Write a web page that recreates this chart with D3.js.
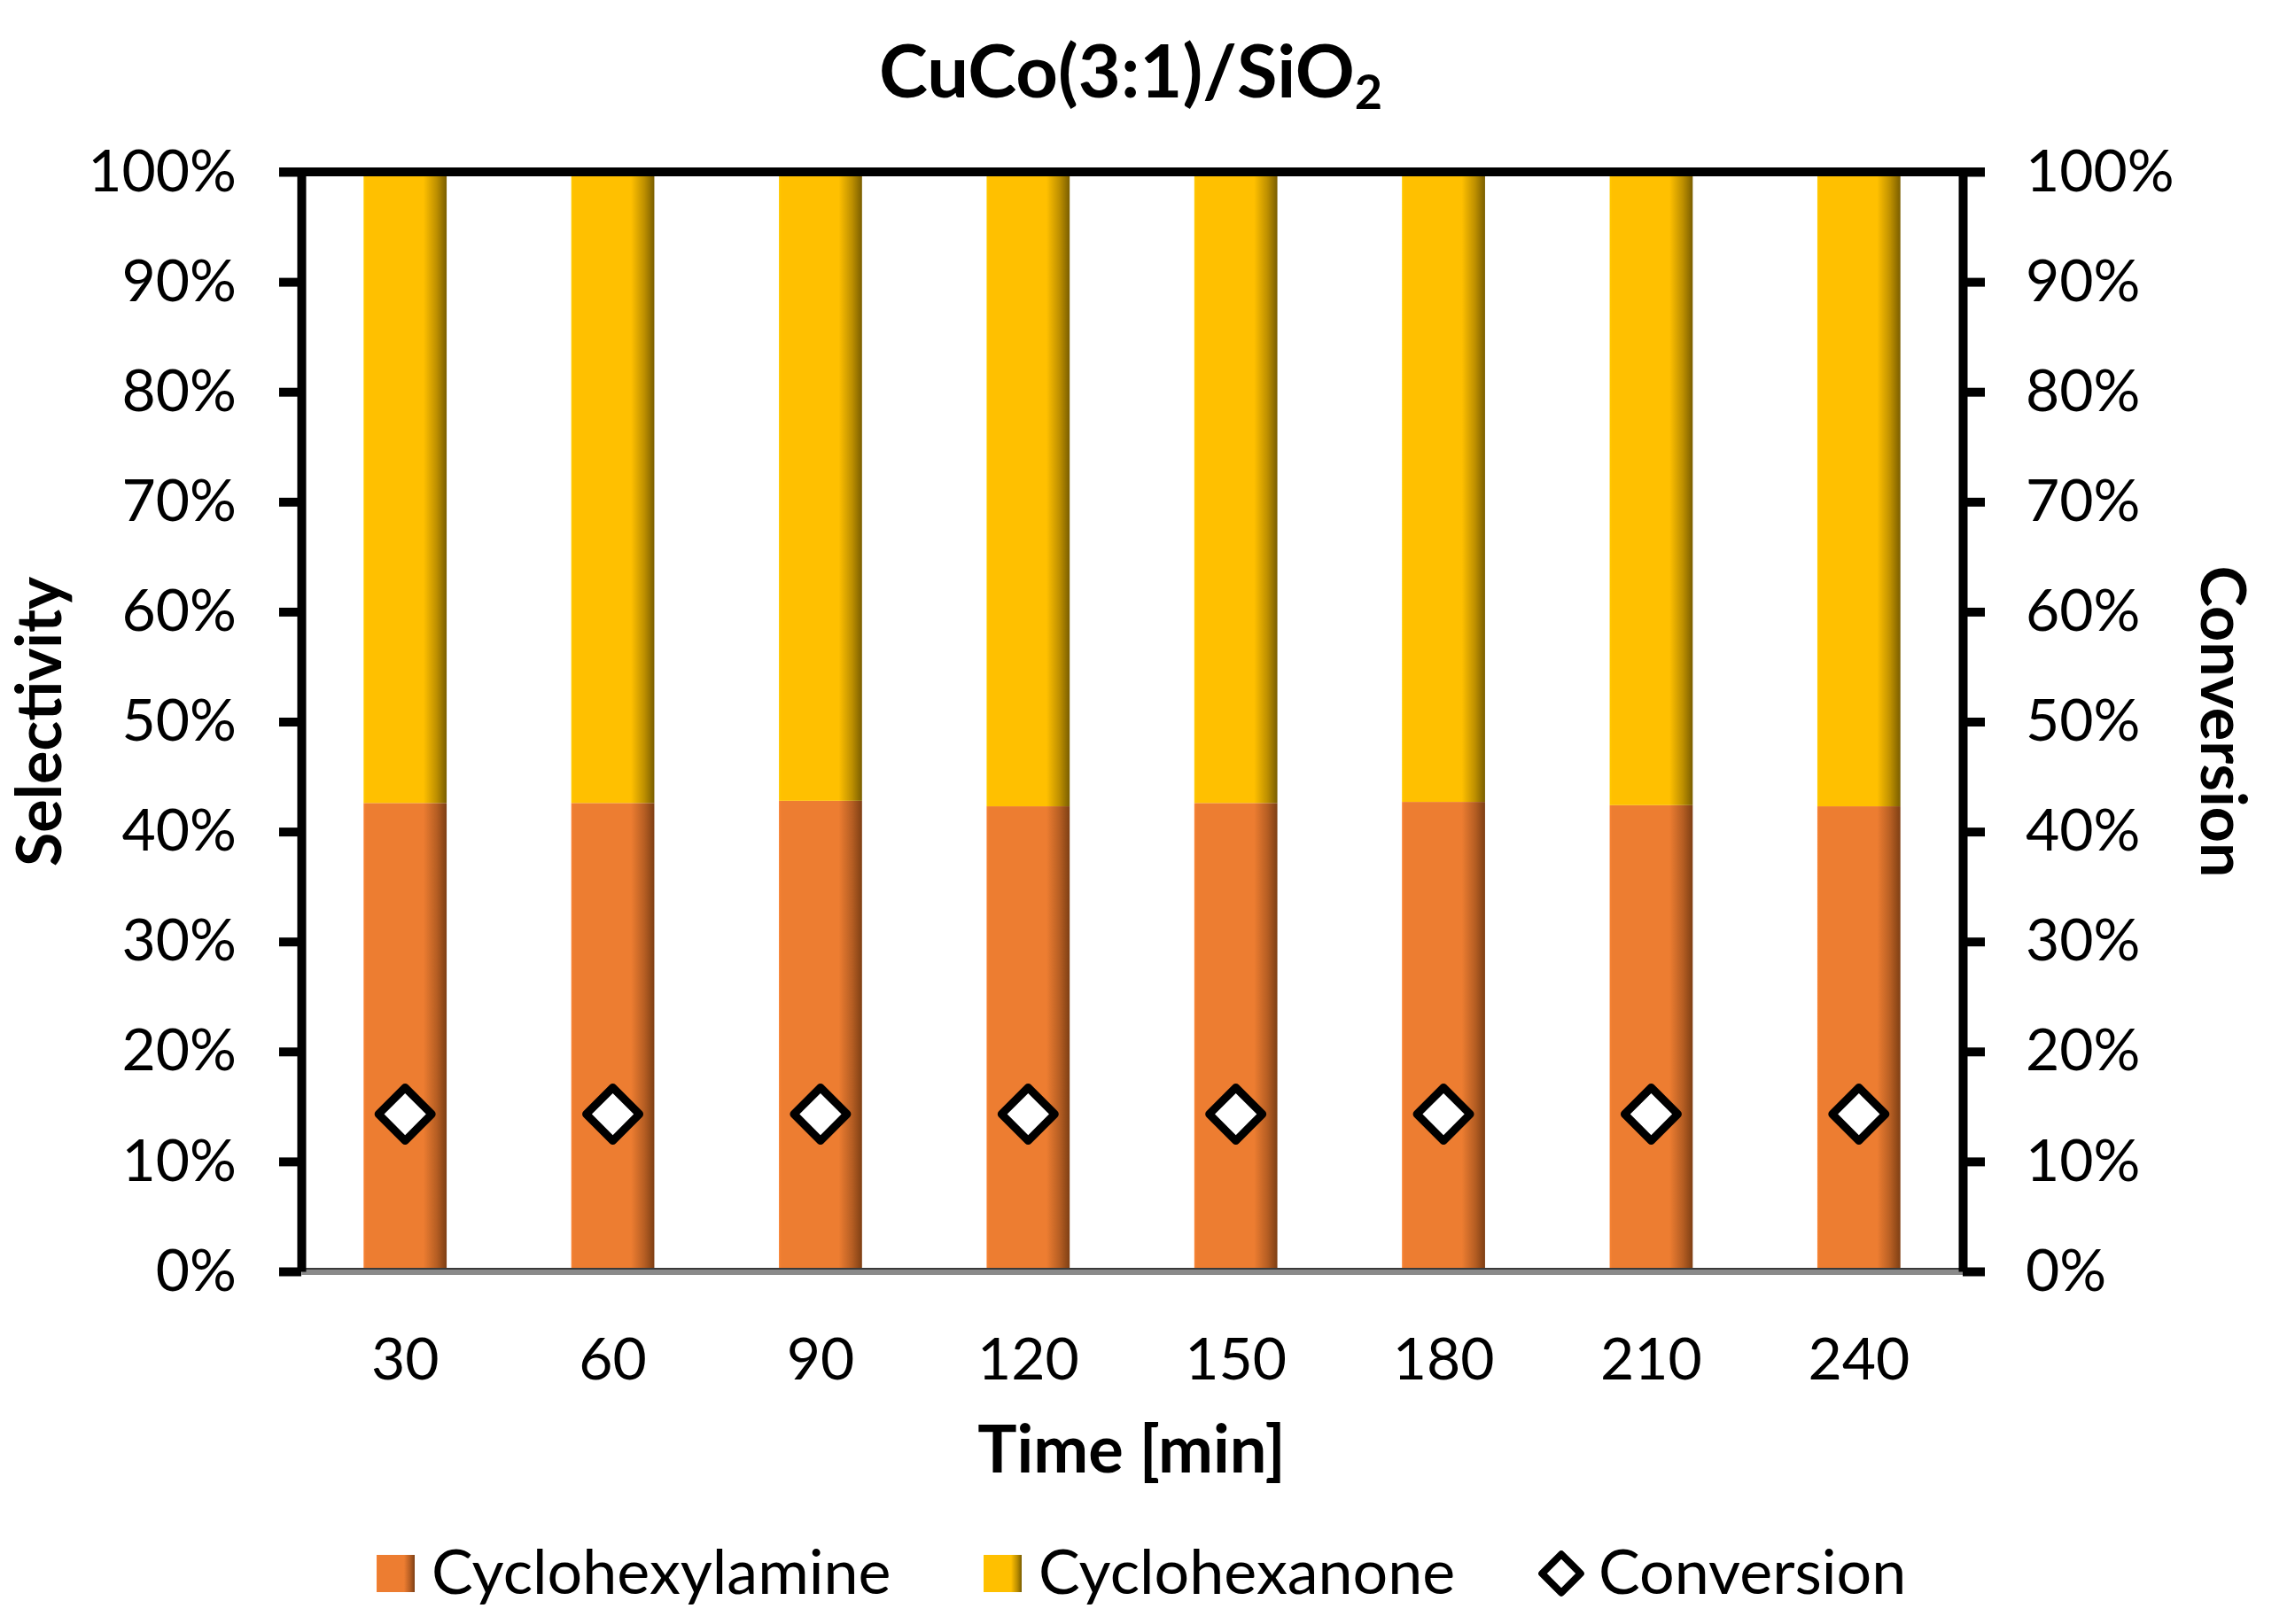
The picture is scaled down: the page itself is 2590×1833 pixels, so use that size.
<!DOCTYPE html>
<html>
<head>
<meta charset="utf-8">
<script src="https://cdn.jsdelivr.net/npm/d3@7"></script>
<style>
  html, body { margin: 0; padding: 0; background: #ffffff; }
  svg { display: block; font-family: Lato, "Open Sans", sans-serif; }
</style>
</head>
<body>
<svg id="chart" width="2590" height="1833"></svg>
<script>
// ---- data ----
const categories = ["30", "60", "90", "120", "150", "180", "210", "240"];
const cyclohexylamine = [42.6, 42.6, 42.8, 42.3, 42.6, 42.7, 42.4, 42.3];
const cyclohexanone   = [57.4, 57.4, 57.2, 57.7, 57.4, 57.3, 57.6, 57.7];
const conversion      = [14.3, 14.3, 14.3, 14.3, 14.3, 14.3, 14.3, 14.3];
const yTicks = [0, 10, 20, 30, 40, 50, 60, 70, 80, 90, 100];
const seriesNames = ["Cyclohexylamine", "Cyclohexanone", "Conversion"];

// ---- layout ----
const W = 2590, H = 1833;
const plot = { left: 340, right: 2215, top: 194, bottom: 1435 };
const colors = { amine: "#ED7D31", amineDark: "#7E3F14", anone: "#FFC000", anoneDark: "#7A5E00" };

const svg = d3.select("#chart");
svg.append("rect").attr("width", W).attr("height", H).attr("fill", "#fff");

const defs = svg.append("defs");
function grad(id, base, dark) {
  const g = defs.append("linearGradient").attr("id", id).attr("x1", "0").attr("x2", "1").attr("y1", "0").attr("y2", "0");
  g.append("stop").attr("offset", "0").attr("stop-color", d3.color(base).brighter(0.15));
  g.append("stop").attr("offset", "0.03").attr("stop-color", base);
  g.append("stop").attr("offset", "0.72").attr("stop-color", base);
  g.append("stop").attr("offset", "0.88").attr("stop-color", d3.interpolateRgb(base, dark)(0.5));
  g.append("stop").attr("offset", "1").attr("stop-color", dark);
}
grad("gAmine", colors.amine, colors.amineDark);
grad("gAnone", colors.anone, colors.anoneDark);

const x = d3.scaleBand().domain(categories).range([plot.left, plot.right]).paddingInner(0.6).paddingOuter(0.3);
const y = d3.scaleLinear().domain([0, 100]).range([plot.bottom, plot.top]);

const rows = categories.map((c, i) => ({ cat: c, amine: cyclohexylamine[i], anone: cyclohexanone[i], conv: conversion[i] }));
const stacked = d3.stack().keys(["amine", "anone"])(rows);
const fills = { amine: "url(#gAmine)", anone: "url(#gAnone)" };

// bars
svg.append("g").selectAll("g").data(stacked).join("g")
  .attr("fill", d => fills[d.key])
  .selectAll("rect").data(d => d).join("rect")
  .attr("x", d => x(d.data.cat))
  .attr("width", x.bandwidth())
  .attr("y", d => y(d[1]))
  .attr("height", d => y(d[0]) - y(d[1]));

const tickFont = 66;
const tickFmt = d => d + "%";

// bottom axis (gray category axis)
const xAxis = svg.append("g").attr("transform", `translate(0,${plot.bottom})`)
  .call(d3.axisBottom(x).tickSize(0).tickPadding(75).tickSizeOuter(0));
xAxis.select(".domain").attr("stroke", "#8a8a8a").attr("stroke-width", 7);
xAxis.append("line").attr("x1", plot.left).attr("x2", plot.right).attr("y1", -3).attr("y2", -3)
  .attr("stroke", "#3a3a3a").attr("stroke-width", 2);
xAxis.selectAll("text").attr("font-size", tickFont).attr("fill", "#000").attr("font-family", "Lato");

// left axis
const yL = svg.append("g").attr("transform", `translate(${plot.left},0)`)
  .call(d3.axisLeft(y).tickValues(yTicks).tickFormat(tickFmt).tickSize(25).tickPadding(48).tickSizeOuter(0));
yL.select(".domain").attr("stroke", "#000").attr("stroke-width", 10);
yL.selectAll(".tick line").attr("stroke", "#000").attr("stroke-width", 10);
yL.selectAll("text").attr("font-size", tickFont).attr("fill", "#000").attr("font-family", "Lato");

// right axis
const yR = svg.append("g").attr("transform", `translate(${plot.right},0)`)
  .call(d3.axisRight(y).tickValues(yTicks).tickFormat(tickFmt).tickSize(25).tickPadding(46).tickSizeOuter(0));
yR.select(".domain").attr("stroke", "#000").attr("stroke-width", 10);
yR.selectAll(".tick line").attr("stroke", "#000").attr("stroke-width", 10);
yR.selectAll("text").attr("font-size", tickFont).attr("fill", "#000").attr("font-family", "Lato");

// top border line
svg.append("line")
  .attr("x1", plot.left - 25).attr("x2", plot.right + 25)
  .attr("y1", y(100)).attr("y2", y(100))
  .attr("stroke", "#000").attr("stroke-width", 10);

// conversion markers (square rotated 45 deg)
const diamond = d3.symbol().type(d3.symbolSquare).size(1800);
svg.append("g").selectAll("path").data(rows).join("path")
  .attr("d", diamond)
  .attr("transform", d => `translate(${x(d.cat) + x.bandwidth() / 2},${y(d.conv)}) rotate(45)`)
  .attr("fill", "#fff").attr("stroke", "#000").attr("stroke-width", 9).attr("stroke-linejoin", "round");

// title
const title = svg.append("text").attr("x", 1276).attr("y", 110).attr("text-anchor", "middle")
  .attr("font-size", 83).attr("font-weight", "bold").attr("font-family", "Lato");
title.append("tspan").text("CuCo(3:1)/SiO");
title.append("tspan").attr("font-size", 54).attr("dy", 13).text("2");

// axis titles
svg.append("text").attr("x", 1277).attr("y", 1662).attr("text-anchor", "middle")
  .attr("font-size", 74).attr("font-weight", "bold").attr("font-family", "Lato").text("Time [min]");
svg.append("text").attr("transform", `translate(69,${(plot.top + plot.bottom) / 2}) rotate(-90)`)
  .attr("text-anchor", "middle").attr("font-size", 70).attr("font-weight", "bold").attr("font-family", "Lato").text("Selectivity");
svg.append("text").attr("transform", `translate(2484,${(plot.top + plot.bottom) / 2}) rotate(90)`)
  .attr("text-anchor", "middle").attr("font-size", 70).attr("font-weight", "bold").attr("font-family", "Lato").text("Conversion");

// legend
const legendY = 1776;
const legendItems = [
  { name: seriesNames[0], type: "rect", fill: "url(#gAmine)", x: 425 },
  { name: seriesNames[1], type: "rect", fill: "url(#gAnone)", x: 1110 },
  { name: seriesNames[2], type: "diamond", x: 1736 }
];
const lg = svg.append("g").selectAll("g").data(legendItems).join("g")
  .attr("transform", d => `translate(${d.x},${legendY})`);
lg.filter(d => d.type === "rect").append("rect")
  .attr("x", 0).attr("y", -21).attr("width", 43).attr("height", 42).attr("fill", d => d.fill);
lg.filter(d => d.type === "diamond").append("path")
  .attr("d", d3.symbol().type(d3.symbolSquare).size(950))
  .attr("transform", "translate(26,0) rotate(45)")
  .attr("fill", "#fff").attr("stroke", "#000").attr("stroke-width", 8).attr("stroke-linejoin", "round");
lg.append("text")
  .attr("x", d => d.type === "rect" ? 62 : 68)
  .attr("y", 23)
  .attr("font-size", 70).attr("font-family", "Lato").attr("fill", "#000")
  .text(d => d.name);
</script>
</body>
</html>
